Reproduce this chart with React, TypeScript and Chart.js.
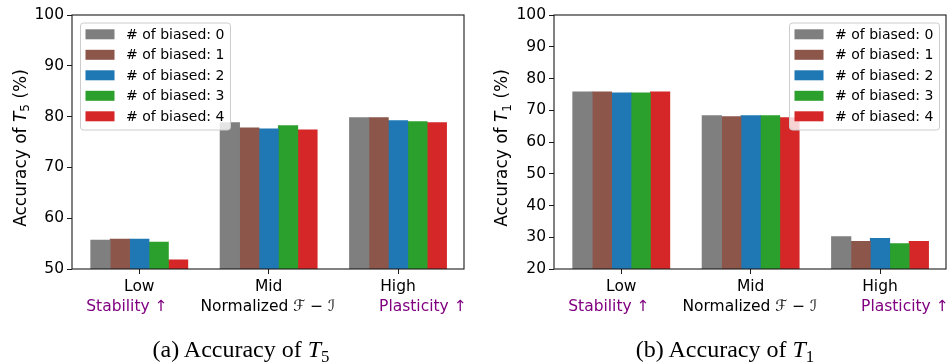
import React, { useEffect, useRef } from "react";
import { Chart, registerables } from "chart.js";

Chart.register(...registerables);

// ---------- data ----------
const categories = ["Low", "Mid", "High"];
const seriesLabels = ["# of biased: 0", "# of biased: 1", "# of biased: 2", "# of biased: 3", "# of biased: 4"];
const seriesColors = ["#7f7f7f", "#8c564b", "#1f77b4", "#2ca02c", "#d62728"];

// Accuracy of T5 (%)
const t5Biased0 = [55.7, 78.8, 79.8];
const t5Biased1 = [55.9, 77.8, 79.8];
const t5Biased2 = [55.9, 77.6, 79.2];
const t5Biased3 = [55.3, 78.2, 79.0];
const t5Biased4 = [51.8, 77.4, 78.8];

// Accuracy of T1 (%)
const t1Biased0 = [75.8, 68.3, 30.2];
const t1Biased1 = [75.8, 68.0, 28.7];
const t1Biased2 = [75.5, 68.3, 29.6];
const t1Biased3 = [75.5, 68.3, 28.0];
const t1Biased4 = [75.8, 67.7, 28.7];

const t5Range = [50, 100];
const t1Range = [20, 100];
const tickStep = 10;
const xRange = [-0.52, 2.51];

const subLabels = ["Stability \u2191", "Normalized \u2131 \u2212 \u2110", "Plasticity \u2191"];
const subLabelColors = ["#800080", "#000000", "#800080"];

const FONT = "DejaVu Sans";

type PanelCfg = {
  values: number[][];
  range: number[];
  subscript: string;
  legendSide: "left" | "right";
  yLabelX: number;
  padLeft: number;
  padRight: number;
  yWidth: number;
};

function makeDecor(cfg: PanelCfg) {
  return {
    id: "decor",
    afterDraw(chart: any) {
      const ctx: CanvasRenderingContext2D = chart.ctx;
      const a = chart.chartArea;
      ctx.save();
      // frame (all four spines)
      ctx.strokeStyle = "#1a1a1a";
      ctx.lineWidth = 1.1;
      ctx.strokeRect(a.left, a.top, a.right - a.left, a.bottom - a.top);

      // sub labels under x ticks
      const w = a.right - a.left;
      const fracs = [0.14, 0.5, 0.895];
      ctx.font = `15.5px "${FONT}"`;
      ctx.textAlign = "center";
      ctx.textBaseline = "alphabetic";
      subLabels.forEach((s, i) => {
        ctx.fillStyle = subLabelColors[i];
        ctx.fillText(s, a.left + fracs[i] * w, 310.5);
      });

      // y axis label with italic T and subscript
      const fs = 17;
      const parts = [
        { t: "Accuracy of ", f: `${fs}px "${FONT}"`, dy: 0 },
        { t: "T", f: `italic ${fs}px "${FONT}"`, dy: 0 },
        { t: cfg.subscript, f: `${Math.round(fs * 0.7)}px "${FONT}"`, dy: 3.5 },
        { t: " (%)", f: `${fs}px "${FONT}"`, dy: 0 },
      ];
      let total = 0;
      const widths = parts.map((p) => {
        ctx.font = p.f;
        const m = ctx.measureText(p.t).width;
        total += m;
        return m;
      });
      ctx.translate(cfg.yLabelX, 148);
      ctx.rotate(-Math.PI / 2);
      ctx.fillStyle = "#000";
      ctx.textAlign = "left";
      let x = -total / 2;
      parts.forEach((p, i) => {
        ctx.font = p.f;
        ctx.fillText(p.t, x, p.dy);
        x += widths[i];
      });
      ctx.restore();

      // legend box
      ctx.save();
      const bw = 150;
      const bh = 107;
      const bx = cfg.legendSide === "left" ? a.left + 8 : a.right - 7 - bw;
      const by = a.top + 7.5;
      ctx.beginPath();
      (ctx as any).roundRect(bx + 0.5, by + 0.5, bw, bh, 3);
      ctx.fillStyle = "rgba(255,255,255,0.8)";
      ctx.fill();
      ctx.strokeStyle = "#cccccc";
      ctx.lineWidth = 1;
      ctx.stroke();
      ctx.font = `14px "${FONT}"`;
      ctx.textAlign = "left";
      ctx.textBaseline = "middle";
      chart.data.datasets.forEach((ds: any, i: number) => {
        const cy = by + 11.8 + i * 20.5;
        ctx.fillStyle = ds.backgroundColor;
        ctx.fillRect(bx + 5.5, cy - 5, 29, 10);
        ctx.fillStyle = "#000";
        ctx.fillText(ds.label, bx + 46, cy + 1);
      });
      ctx.restore();
    },
  };
}

function Panel({ cfg }: { cfg: PanelCfg }) {
  const ref = useRef<HTMLCanvasElement | null>(null);
  useEffect(() => {
    if (!ref.current) return;
    const chart = new Chart(ref.current, {
      type: "bar",
      data: {
        labels: categories.map((_, i) => i),
        datasets: seriesLabels.map((label, i) => ({
          label,
          data: cfg.values[i],
          backgroundColor: seriesColors[i],
          borderWidth: 0,
          inflateAmount: 0.4,
          categoryPercentage: 0.75,
          barPercentage: 1.0,
        })),
      },
      options: {
        animation: false,
        responsive: false,
        events: [],
        layout: { padding: { left: cfg.padLeft, right: cfg.padRight, top: 15, bottom: 0 } },
        plugins: { legend: { display: false }, tooltip: { enabled: false }, title: { display: false } },
        scales: {
          x: {
            type: "linear",
            min: xRange[0],
            max: xRange[1],
            offset: false,
            afterBuildTicks: (s: any) => {
              s.ticks = categories.map((_, i) => ({ value: i }));
            },
            grid: { display: true, offset: false, drawOnChartArea: false, drawTicks: true, tickLength: 5, color: "#1a1a1a", tickColor: "#1a1a1a", tickWidth: 1 },
            border: { display: false },
            ticks: {
              color: "#000",
              font: { family: FONT, size: 15.5 },
              padding: 4,
              maxRotation: 0,
              autoSkip: false,
              callback: (v: any) => categories[Math.round(Number(v))] ?? "",
            },
            afterFit: (s: any) => {
              s.height = 93;
            },
          },
          y: {
            min: cfg.range[0],
            max: cfg.range[1],
            grid: { display: true, drawOnChartArea: false, drawTicks: true, tickLength: 5, color: "#1a1a1a", tickColor: "#1a1a1a", tickWidth: 1 },
            border: { display: false },
            ticks: { stepSize: tickStep, color: "#000", font: { family: FONT, size: 15.5 }, padding: 3 },
            afterFit: (s: any) => {
              s.width = cfg.yWidth;
            },
          },
        },
      },
      plugins: [makeDecor(cfg)],
    } as any);
    return () => chart.destroy();
  }, [cfg]);
  return <canvas ref={ref} width={476} height={362} style={{ display: "block", width: 476, height: 362 }} />;
}

const leftCfg: PanelCfg = {
  values: [t5Biased0, t5Biased1, t5Biased2, t5Biased3, t5Biased4],
  range: t5Range,
  subscript: "5",
  legendSide: "left",
  yLabelX: 25.5,
  padLeft: 0,
  padRight: 12,
  yWidth: 72,
};

const rightCfg: PanelCfg = {
  values: [t1Biased0, t1Biased1, t1Biased2, t1Biased3, t1Biased4],
  range: t1Range,
  subscript: "1",
  legendSide: "right",
  yLabelX: 31,
  padLeft: 0,
  padRight: 6,
  yWidth: 78,
};

const captionStyle: React.CSSProperties = {
  position: "absolute",
  top: 337,
  width: 300,
  textAlign: "center",
  fontFamily: '"Liberation Serif", serif',
  fontSize: 24,
  lineHeight: "24px",
  color: "#000",
  whiteSpace: "nowrap",
};

function Caption({ letter, sub, cx }: { letter: string; sub: string; cx: number }) {
  return (
    <div style={{ ...captionStyle, left: cx - 150 }}>
      ({letter}) Accuracy of <i>T</i>
      <span style={{ fontSize: "0.7em", position: "relative", top: "0.3em" }}>{sub}</span>
    </div>
  );
}

export default function App() {
  return (
    <div style={{ position: "absolute", left: 0, top: 0, width: 952, height: 362, background: "#fff", overflow: "hidden" }}>
      <div style={{ position: "absolute", left: 0, top: 0 }}>
        <Panel cfg={leftCfg} />
      </div>
      <div style={{ position: "absolute", left: 476, top: 0 }}>
        <Panel cfg={rightCfg} />
      </div>
      <Caption letter="a" sub="5" cx={241} />
      <Caption letter="b" sub="1" cx={725} />
    </div>
  );
}
